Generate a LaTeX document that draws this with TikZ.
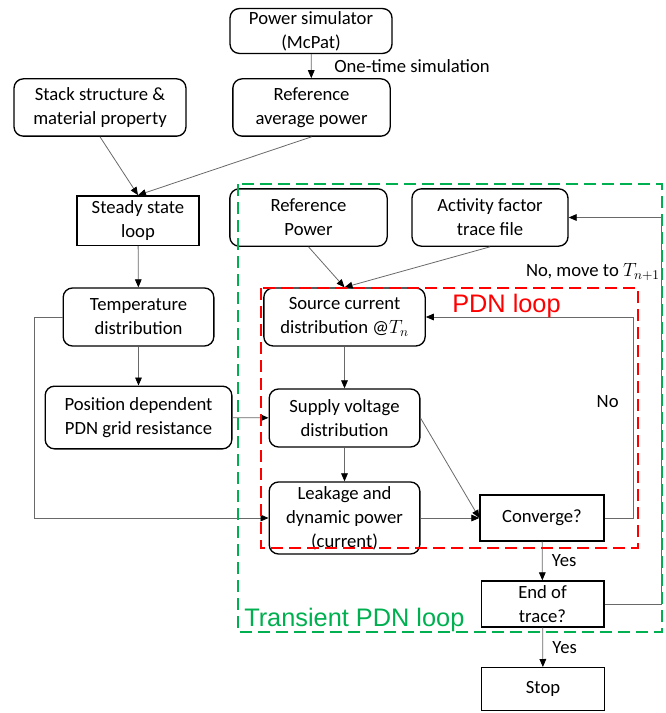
\documentclass[tikz,border=0pt]{standalone}
\usepackage{fontspec}
\setmainfont{Carlito}
\newfontfamily\loopfont{Liberation Sans}
\usepackage{xcolor}
\definecolor{loopGreen}{RGB}{0, 176, 80}
\definecolor{loopRed}{RGB}{255, 0, 0}
\definecolor{lineGray}{RGB}{105, 105, 105}
\usetikzlibrary{arrows.meta, positioning}

\begin{document}
\begin{tikzpicture}[
    x=0.75pt, y=-0.75pt,
    stepNode/.style={
        rectangle, rounded corners=7pt,
        draw=black, line width=1pt, fill=white,
        align=center, font=\fontsize{14}{18}\selectfont,
        inner sep=2pt
    },
    testNode/.style={
        stepNode, sharp corners
    },
    flowArrow/.style={
        -{Triangle[length=6pt, width=5pt, color=black]}, line width=0.6pt, draw=lineGray
    },
    labelNode/.style={
        font=\fontsize{14}{18}\selectfont, inner sep=1pt
    },
    loopBox/.style={
        line width=2.2pt, dash pattern=on 9pt off 4.5pt
    },
    loopTitle/.style={
        font=\loopfont\fontsize{19}{22}\selectfont, inner sep=0pt
    }
]
    \useasboundingbox (0,0) rectangle (665,713);

    % Inputs of the steady state solve
    \node[stepNode, minimum width=121.5pt, minimum height=33pt] (powersim) at (311, 31) {Power simulator\\(McPat)};
    \node[stepNode, minimum width=118pt, minimum height=43pt] (refavg) at (311.5, 107.5) {Reference\\average power};
    \node[stepNode, minimum width=129pt, minimum height=43pt] (stack) at (100, 107.5) {Stack structure \&\\material property};

    % Steady state branch
    \node[testNode, minimum width=91.5pt, minimum height=37pt] (steady) at (138, 220.5) {Steady state\\loop};
    \node[stepNode, minimum width=113pt, minimum height=43.5pt] (temp) at (138.5, 317) {Temperature\\distribution};
    \node[stepNode, minimum width=140pt, minimum height=47pt] (griddep) at (138.5, 417.5) {Position dependent\\PDN grid resistance};

    % Transient inputs
    \node[stepNode, minimum width=118pt, minimum height=43pt] (refpower) at (308.5, 217.5) {Reference\\Power};
    \node[stepNode, minimum width=117pt, minimum height=43pt] (activity) at (490, 217.5) {Activity factor\\trace file};

    % PDN loop
    \node[stepNode, minimum width=121pt, minimum height=43.5pt] (source) at (344.5, 317) {Source current\\distribution @$T_n$};
    \node[stepNode, minimum width=113pt, minimum height=43.5pt] (supply) at (344.5, 418) {Supply voltage\\distribution};
    \node[stepNode, minimum width=113pt, minimum height=54pt] (leakage) at (344.5, 518) {Leakage and\\dynamic power\\(current)};
    \node[testNode, minimum width=93pt, minimum height=34.5pt] (converge) at (542, 518) {Converge?};

    % Trace end and exit
    \node[testNode, minimum width=92pt, minimum height=34.5pt] (endtrace) at (542.5, 604) {End of\\trace?};
    \node[testNode, minimum width=92pt, minimum height=32pt] (stop) at (543, 689) {Stop};

    % Connectors
    \draw[flowArrow] (powersim) -- node[labelNode, right=16pt] {One-time simulation} (refavg);
    \draw[flowArrow] (stack.south) -- (steady.north);
    \draw[flowArrow] (refavg.south) -- (steady.north);
    \draw[flowArrow] (steady) -- (temp);
    \draw[flowArrow] (temp) -- (griddep);
    \draw[flowArrow] (griddep) -- (supply);
    \draw[flowArrow] (temp.west) -- ++(-28,0) |- (leakage.west);

    \draw[flowArrow] (refpower.south) -- (source.north);
    \draw[flowArrow] (activity.south) -- (source.north);
    \draw[flowArrow] (source) -- (supply);
    \draw[flowArrow] (supply) -- (leakage);
    \draw[flowArrow] (leakage) -- (converge);
    \draw[flowArrow] (supply.east) -- (converge.west);
    \draw[flowArrow] (converge.east) -- ++(29,0) |- node[labelNode, left=10pt, pos=0.29] {No} (source.east);

    \draw[flowArrow] (converge) -- node[labelNode, right=6pt] {Yes} (endtrace);
    \draw[flowArrow] (endtrace) -- node[labelNode, right=6pt] {Yes} (stop);
    \draw[flowArrow] (endtrace.east) -- ++(57,0) |- node[labelNode, anchor=east, pos=0.43] {No, move to $T_{n+1}$} (activity.east);

    % Loop frames
    \draw[loopBox, draw=loopGreen] (238, 184) rectangle (662, 632);
    \draw[loopBox, draw=loopRed] (261, 288) rectangle (638, 548);
    \node[loopTitle, text=loopGreen, anchor=base west] (transtitle) at (244, 626) {Transient PDN loop};
    \node[loopTitle, text=loopRed, anchor=base west] (pdntitle) at (452, 312) {PDN loop};

\end{tikzpicture}
\end{document}
